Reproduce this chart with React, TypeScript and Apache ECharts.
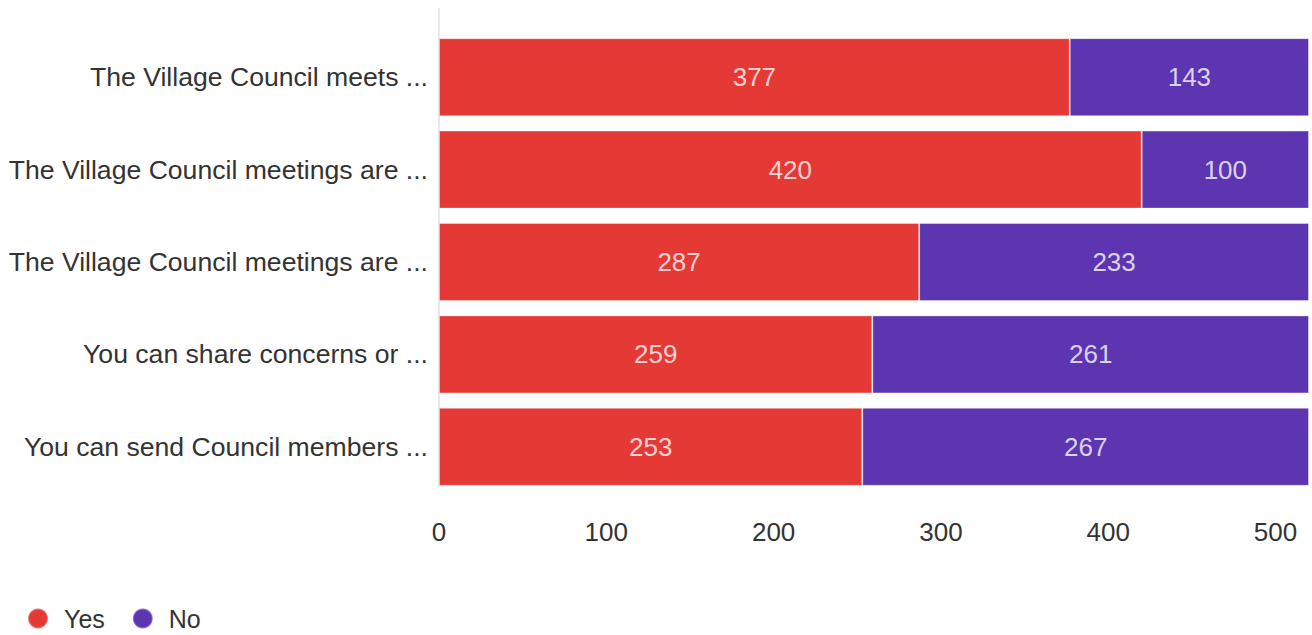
import React, { useEffect, useRef } from "react";
import * as echarts from "echarts";

const categories = [
  "The Village Council meets ...",
  "The Village Council meetings are ...",
  "The Village Council meetings are ...",
  "You can share concerns or ...",
  "You can send Council members ...",
];
const yesValues = [377, 420, 287, 259, 253];
const noValues = [143, 100, 233, 261, 267];
const seriesNames = ["Yes", "No"];
const colors = ["#e53935", "#5e35b1"];

export default function App() {
  const ref = useRef<HTMLDivElement>(null);
  useEffect(() => {
    if (!ref.current) return;
    const chart = echarts.init(ref.current, undefined, { renderer: "svg" });
    const font = "'Liberation Sans', Arial, sans-serif";
    const labelStyle = {
      show: true,
      position: "inside",
      color: "rgba(255,255,255,0.78)",
      fontSize: 26,
      fontFamily: font,
    };
    chart.setOption({
      animation: false,
      textStyle: { fontFamily: font },
      grid: { left: 439, right: 3, top: 31, height: 462 },
      xAxis: {
        type: "value",
        min: 0,
        max: 520,
        interval: 100,
        axisLine: { show: false },
        axisTick: { show: false },
        splitLine: { show: false },
        axisLabel: {
          color: "#333",
          fontSize: 26,
          fontFamily: font,
          margin: 26,
          showMaxLabel: false,
          formatter: (v: number) => (v % 100 === 0 ? String(v) : ""),
        },
      },
      yAxis: {
        type: "category",
        data: categories,
        inverse: true,
        axisLine: { show: false },
        axisTick: { show: false },
        axisLabel: {
          color: "#333",
          fontSize: 26.6,
          fontFamily: font,
          margin: 11,
        },
      },
      legend: {
        left: 22,
        top: 601,
        icon: "circle",
        itemWidth: 30,
        itemHeight: 20,
        itemGap: 27,
        textStyle: { color: "#333", fontSize: 25, fontFamily: font, padding: [0, 0, 0, 6] },
        data: seriesNames,
      },
      graphic: [
        {
          type: "line",
          shape: { x1: 439, y1: 8, x2: 439, y2: 487 },
          style: { stroke: "#e8e8e8", lineWidth: 2 },
          z: 0,
        },
      ],
      series: [
        {
          name: seriesNames[0],
          type: "bar",
          stack: "total",
          data: yesValues,
          barWidth: 78,
          itemStyle: { color: colors[0], borderColor: "rgba(255,255,255,0.35)", borderWidth: 1 },
          label: labelStyle,
        },
        {
          name: seriesNames[1],
          type: "bar",
          stack: "total",
          data: noValues,
          barWidth: 78,
          itemStyle: { color: colors[1], borderColor: "rgba(255,255,255,0.35)", borderWidth: 1 },
          label: labelStyle,
        },
      ],
    });
    return () => chart.dispose();
  }, []);
  return <div ref={ref} style={{ width: 1312, height: 635, position: "absolute", left: 0, top: 0 }} />;
}
